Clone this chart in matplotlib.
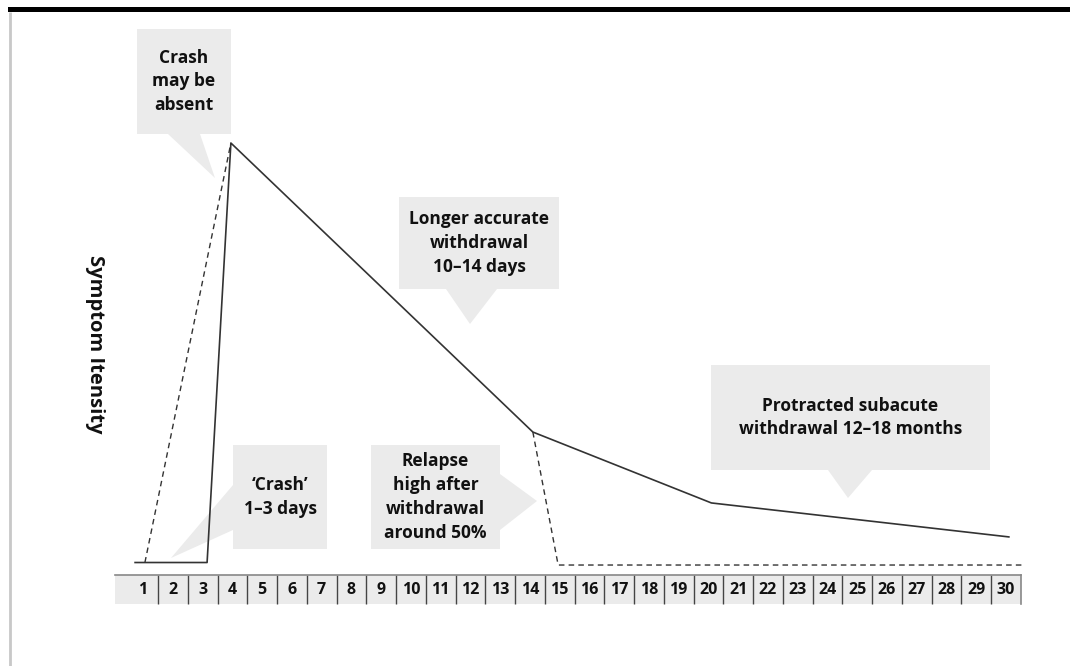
import numpy as np
import matplotlib.pyplot as plt
from matplotlib.patches import Polygon, Rectangle

plt.rcParams['font.family'] = ['Open Sans', 'DejaVu Sans']

# day strip
days = list(range(1, 31))
day_labels = [str(d) for d in days]

# symptom curve (x in days, y in intensity 0-100)
solid_x = [0.73, 3.15, 3.95, 14.1, 20.1, 30.1]
solid_y = [0, 0, 100, 31.1, 14.2, 6.1]
# dashed alternatives: no crash at start, relapse after acute phase
nocrash_x = [1.06, 3.95]
nocrash_y = [0, 100]
relapse_x = [14.1, 14.95, 30.58]
relapse_y = [31.1, -0.6, -0.6]

# callouts: text, box (x0, y0, x1, y1) in pixels, pointer triangle
callouts = [
    ("Crash\nmay be\nabsent", (137, 29, 231, 134), [(168, 134), (200, 134), (215, 178)]),
    ("Longer accurate\nwithdrawal\n10\u201314 days", (399, 197, 559, 289), [(446, 289), (497, 289), (470, 324)]),
    ("\u2018Crash\u2019\n1\u20133 days", (233, 445, 327, 549), [(233, 485), (233, 530), (171, 558)]),
    ("Relapse\nhigh after\nwithdrawal\naround 50%", (371, 445, 500, 549), [(500, 474), (500, 530), (537, 501)]),
    ("Protracted subacute\nwithdrawal 12\u201318 months", (711, 365, 990, 470), [(828, 470), (872, 470), (848, 498)]),
]

W, H = 1070, 666
fig = plt.figure(figsize=(W / 100, H / 100), dpi=100)

# overlay in pixel units for the frame and callouts
deco = fig.add_axes([0, 0, 1, 1])
deco.set_xlim(0, W)
deco.set_ylim(H, 0)
deco.axis('off')
deco.add_patch(Rectangle((8, 7), W - 8, 5, color='black', lw=0))
deco.plot([10, 10], [12, H], color='#c8c8c8', lw=2, solid_capstyle='butt')

box_col = '#ebebeb'
for text, (x0, y0, x1, y1), tri in callouts:
    deco.add_patch(Rectangle((x0, y0), x1 - x0, y1 - y0, color=box_col, lw=0))
    deco.add_patch(Polygon(tri, closed=True, color=box_col, lw=0))
    deco.text((x0 + x1) / 2, (y0 + y1) / 2, text, ha='center', va='center',
              fontsize=12.5, fontweight='bold', color='#111111', linespacing=1.42)

deco.text(95, 344, 'Symptom Itensity', rotation=270, ha='center', va='center',
          fontsize=14.5, fontweight='bold', color='#111111')

# data axes
ax = fig.add_axes([0, 0, 1, 1])
ax.patch.set_alpha(0)
ax.set_xlim(-3.811, 32.155)
ax.set_ylim(-24.67, 134.09)
ax.axis('off')

ax.plot(solid_x, solid_y, color='#333333', lw=1.2)
ax.plot(nocrash_x, nocrash_y, color='#333333', lw=1.0, ls=(0, (4, 3)))
ax.plot(relapse_x, relapse_y, color='#333333', lw=1.0, ls=(0, (4, 3)))

# day strip as bars
strip_top, strip_bot = -2.98, -9.89
lefts = [0.055] + [d - 0.5 for d in days[1:]]
rights = [d + 0.5 for d in days]
widths = [r - l for l, r in zip(lefts, rights)]
ax.bar(lefts, [strip_top - strip_bot] * len(days), width=widths, bottom=strip_bot,
       align='edge', color='#ebebeb', lw=0)
ax.vlines([d + 0.5 for d in days[:-1]], strip_bot, strip_top, color='#444444', lw=1.0)
ax.plot([lefts[0], rights[-1]], [strip_top, strip_top], color='#888888', lw=1.2)
ax.plot([rights[-1], rights[-1]], [strip_bot, strip_top], color='#888888', lw=1.2)
for d, lab in zip(days, day_labels):
    ax.text(d, (strip_top + strip_bot) / 2, lab, ha='center', va='center',
            fontsize=11.5, fontweight='bold', color='#111111')

fig.savefig('out.png', dpi=100)
